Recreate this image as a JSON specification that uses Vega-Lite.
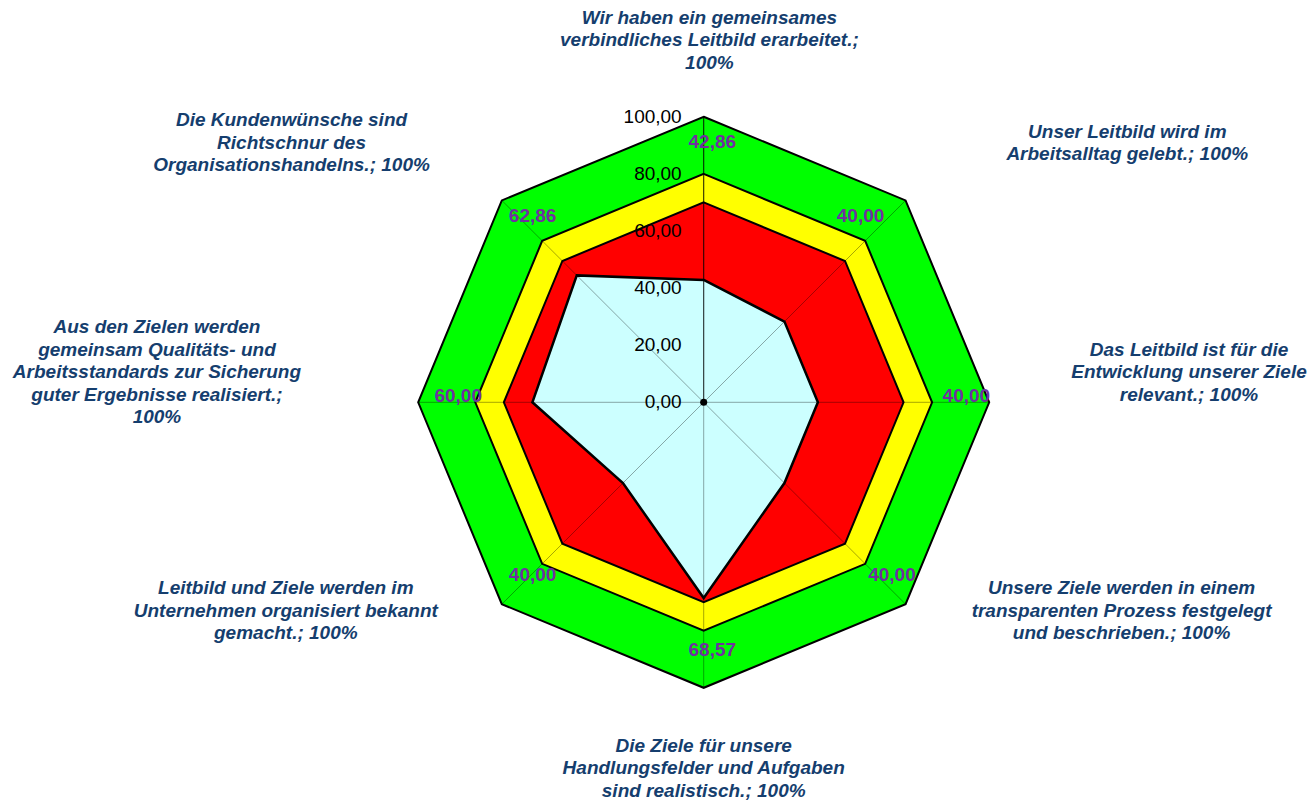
{
  "$schema": "https://vega.github.io/schema/vega-lite/v6.json",
  "width": 1312,
  "height": 800,
  "padding": 0,
  "autosize": "none",
  "background": "white",
  "config": {
    "view": {"stroke": null},
    "locale": {"number": {"decimal": ",", "thousands": ".", "grouping": [3], "currency": ["", " €"]}}
  },
  "datasets": {
    "axes": [
      {"i": 0, "score": 42.86, "green": 100, "yellow": 80, "red": 70, "label": ["Wir haben ein gemeinsames", "verbindliches Leitbild erarbeitet.;", "100%"]},
      {"i": 1, "score": 40.00, "green": 100, "yellow": 80, "red": 70, "label": ["Unser Leitbild wird im", "Arbeitsalltag gelebt.; 100%"]},
      {"i": 2, "score": 40.00, "green": 100, "yellow": 80, "red": 70, "label": ["Das Leitbild ist für die", "Entwicklung unserer Ziele", "relevant.; 100%"]},
      {"i": 3, "score": 40.00, "green": 100, "yellow": 80, "red": 70, "label": ["Unsere Ziele werden in einem", "transparenten Prozess festgelegt", "und beschrieben.; 100%"]},
      {"i": 4, "score": 68.57, "green": 100, "yellow": 80, "red": 70, "label": ["Die Ziele für unsere", "Handlungsfelder und Aufgaben", "sind realistisch.; 100%"]},
      {"i": 5, "score": 40.00, "green": 100, "yellow": 80, "red": 70, "label": ["Leitbild und Ziele werden im", "Unternehmen organisiert bekannt", "gemacht.; 100%"]},
      {"i": 6, "score": 60.00, "green": 100, "yellow": 80, "red": 70, "label": ["Aus den Zielen werden", "gemeinsam Qualitäts- und", "Arbeitsstandards zur Sicherung", "guter Ergebnisse realisiert.;", "100%"]},
      {"i": 7, "score": 62.86, "green": 100, "yellow": 80, "red": 70, "label": ["Die Kundenwünsche sind", "Richtschnur des", "Organisationshandelns.; 100%"]}
    ],
    "ticks": [{"v": 0}, {"v": 20}, {"v": 40}, {"v": 60}, {"v": 80}, {"v": 100}]
  },
  "encoding": {
    "x": {"field": "px", "type": "quantitative", "scale": {"domain": [-246.48, 213.07], "nice": false, "zero": false}, "axis": null},
    "y": {"field": "py", "type": "quantitative", "scale": {"domain": [-139.30, 140.91], "nice": false, "zero": false}, "axis": null}
  },
  "layer": [
    {
      "data": {"name": "axes"},
      "transform": [
        {"calculate": "datum.i * PI / 4", "as": "a"},
        {"calculate": "datum.green * sin(datum.a)", "as": "px"},
        {"calculate": "datum.green * cos(datum.a)", "as": "py"}
      ],
      "mark": {"type": "line", "interpolate": "linear-closed", "fill": "#00FF00", "stroke": "black", "strokeWidth": 2},
      "encoding": {"order": {"field": "i", "type": "quantitative"}}
    },
    {
      "data": {"name": "axes"},
      "transform": [
        {"calculate": "datum.i * PI / 4", "as": "a"},
        {"calculate": "datum.yellow * sin(datum.a)", "as": "px"},
        {"calculate": "datum.yellow * cos(datum.a)", "as": "py"}
      ],
      "mark": {"type": "line", "interpolate": "linear-closed", "fill": "#FFFF00", "stroke": "black", "strokeWidth": 2},
      "encoding": {"order": {"field": "i", "type": "quantitative"}}
    },
    {
      "data": {"name": "axes"},
      "transform": [
        {"calculate": "datum.i * PI / 4", "as": "a"},
        {"calculate": "datum.red * sin(datum.a)", "as": "px"},
        {"calculate": "datum.red * cos(datum.a)", "as": "py"}
      ],
      "mark": {"type": "line", "interpolate": "linear-closed", "fill": "#FF0000", "stroke": "black", "strokeWidth": 2},
      "encoding": {"order": {"field": "i", "type": "quantitative"}}
    },
    {
      "data": {"name": "axes"},
      "transform": [
        {"calculate": "datum.i * PI / 4", "as": "a"},
        {"calculate": "datum.score * sin(datum.a)", "as": "px"},
        {"calculate": "datum.score * cos(datum.a)", "as": "py"}
      ],
      "mark": {"type": "line", "interpolate": "linear-closed", "fill": "#CCFFFF", "stroke": "black", "strokeWidth": 2.5},
      "encoding": {"order": {"field": "i", "type": "quantitative"}}
    },
    {
      "data": {"name": "axes"},
      "transform": [
        {"calculate": "datum.i * PI / 4", "as": "a"},
        {"calculate": "datum.green * sin(datum.a)", "as": "px"},
        {"calculate": "datum.green * cos(datum.a)", "as": "py"}
      ],
      "mark": {"type": "rule", "color": "black", "opacity": 0.35, "strokeWidth": 1},
      "encoding": {"x2": {"datum": 0}, "y2": {"datum": 0}}
    },
    {
      "data": {"name": "axes"},
      "transform": [
        {"filter": "datum.i == 0"},
        {"calculate": "0", "as": "px"},
        {"calculate": "datum.green", "as": "py"}
      ],
      "mark": {"type": "rule", "color": "black", "opacity": 0.75, "strokeWidth": 1},
      "encoding": {"x2": {"datum": 0}, "y2": {"datum": 0}}
    },
    {
      "data": {"name": "axes"},
      "transform": [
        {"filter": "datum.i == 0"},
        {"calculate": "0", "as": "px"},
        {"calculate": "0", "as": "py"}
      ],
      "mark": {"type": "point", "filled": true, "color": "black", "opacity": 1, "size": 50}
    },
    {
      "data": {"name": "ticks"},
      "transform": [
        {"calculate": "0", "as": "px"},
        {"calculate": "datum.v", "as": "py"}
      ],
      "mark": {"type": "text", "align": "right", "baseline": "middle", "dx": -22, "font": "Liberation Sans", "fontSize": 19, "color": "black"},
      "encoding": {"text": {"field": "v", "type": "quantitative", "format": ".2f"}}
    },
    {
      "data": {"name": "axes"},
      "transform": [
        {"calculate": "datum.i * PI / 4", "as": "a"},
        {"calculate": "89 * sin(datum.a) + 3 - (sin(datum.a) > 0.5 && cos(datum.a) > 0.5 ? 11 : 0)", "as": "px"},
        {"calculate": "89 * cos(datum.a) + 2.3", "as": "py"}
      ],
      "mark": {"type": "text", "align": "center", "baseline": "middle", "font": "Liberation Sans", "fontSize": 19, "fontWeight": "bold", "color": "#7030A0"},
      "encoding": {"text": {"field": "score", "type": "quantitative", "format": ".2f"}}
    },
    {
      "data": {"name": "axes"},
      "transform": [
        {"calculate": "datum.i * PI / 4", "as": "a"},
        {"calculate": "sin(datum.a) * (abs(sin(datum.a)) > 0.9 ? (sin(datum.a) > 0 ? 170 : 191.5) : 207) + (cos(datum.a) > 0.5 ? 2 : 0)", "as": "px"},
        {"calculate": "(abs(cos(datum.a)) > 0.9 ? cos(datum.a) * 127.5 : (abs(sin(datum.a)) > 0.9 ? 11.3 : cos(datum.a) * (cos(datum.a) > 0 ? 129.5 : 102.3))) + (length(datum.label) - 1) * 3.94 - 0.7", "as": "py"}
      ],
      "mark": {"type": "text", "align": "center", "baseline": "middle", "font": "Liberation Sans", "fontSize": 19, "fontWeight": "bold", "fontStyle": "italic", "lineHeight": 22.5, "color": "#153E6E"},
      "encoding": {"text": {"field": "label", "type": "nominal"}}
    }
  ]
}
